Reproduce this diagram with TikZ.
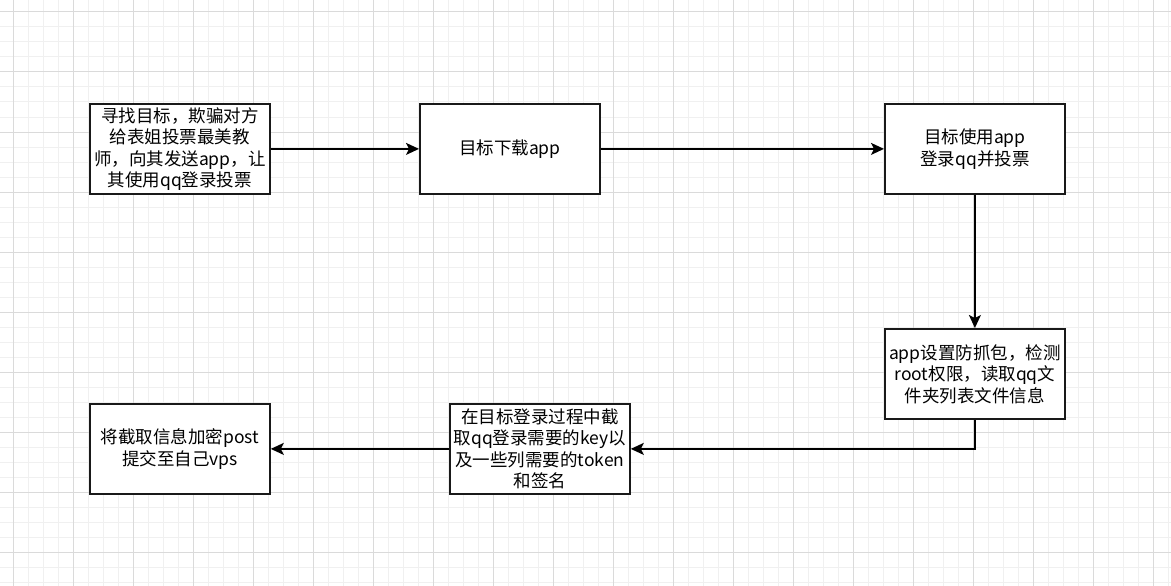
\documentclass[tikz,border=0pt]{standalone}
\usepackage{fontspec}
\newfontfamily\cjk{Noto Sans CJK SC}
\usetikzlibrary{arrows.meta}
\definecolor{minorgrid}{HTML}{F0F0F0}
\definecolor{majorgrid}{HTML}{DADADA}
\tikzset{
  stepbox/.style={draw=black!90, line width=1.8pt, fill=white, minimum width=180pt, minimum height=90pt,
    inner sep=0pt, align=center, font=\cjk\fontsize{17.5pt}{21.5pt}\selectfont, anchor=north west},
  flow/.style={draw=black, line width=1.5pt, -{Stealth[length=13pt,width=12pt,inset=3pt]}}
}
\begin{document}
\begin{tikzpicture}[x=1pt,y=-1pt]
\useasboundingbox (0,0) rectangle (1171,586);
\fill[white] (0,0) rectangle (1171,586);
% minor grid
\foreach \i in {0,...,79} {
  \draw[minorgrid, line width=1pt] ({-2+15*\i},0) -- ({-2+15*\i},586);
}
\foreach \j in {0,...,40} {
  \draw[minorgrid, line width=1pt] (0,{-3+15*\j}) -- (1171,{-3+15*\j});
}
% major grid
\foreach \i in {0,...,19} {
  \draw[majorgrid, line width=1pt] ({13+60*\i},0) -- ({13+60*\i},586);
}
\foreach \j in {0,...,9} {
  \draw[majorgrid, line width=1pt] (0,{12+60*\j}) -- (1171,{12+60*\j});
}
% boxes
\node[stepbox] (b1) at (89,103) {寻找目标，欺骗对方\\给表姐投票最美教\\师，向其发送app，让\\其使用qq登录投票};
\node[stepbox] (b2) at (419,103) {目标下载app};
\node[stepbox] (b3) at (884,103) {目标使用app\\登录qq并投票};
\node[stepbox] (b4) at (884,328) {app设置防抓包，检测\\root权限，读取qq文\\件夹列表文件信息};
\node[stepbox] (b5) at (449,403) {在目标登录过程中截\\取qq登录需要的key以\\及一些列需要的token\\和签名};
\node[stepbox] (b6) at (89,403) {将截取信息加密post\\提交至自己vps};
% connectors
\draw[flow] (b1.east) -- (b2.west);
\draw[flow] (b2.east) -- (b3.west);
\draw[flow] (b3.south) -- (b4.north);
\draw[flow] (b4.south) |- (b5.east);
\draw[flow] (b5.west) -- (b6.east);
\end{tikzpicture}
\end{document}
